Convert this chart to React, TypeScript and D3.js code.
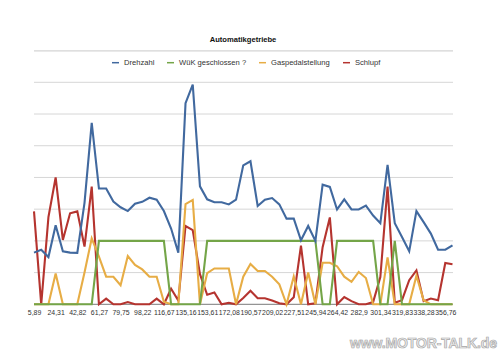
import React, { useRef, useEffect } from "react";
import * as d3 from "d3";

// x labels (every 3rd sample is labelled)
const xLabels = [
  "5,89", "24,31", "42,82", "61,27", "79,75", "98,22", "116,67", "135,16",
  "153,61", "172,08", "190,57", "209,02", "227,51", "245,94", "264,42",
  "282,9", "301,34", "319,83", "338,28", "356,76",
];

// values in grid units (7 gridlines, no y labels in the original)
const drehzahl = [
  1.63, 1.72, 1.49, 2.49, 1.67, 1.63, 1.62, 3.2, 5.72, 3.65, 3.65, 3.24, 3.06,
  2.94, 3.17, 3.23, 3.36, 3.3, 2.94, 2.39, 1.63, 6.34, 6.93, 3.72, 3.31, 3.22,
  3.22, 3.15, 3.3, 4.38, 4.51, 3.1, 3.3, 3.35, 3.15, 2.7, 2.7, 2.02, 2.47, 2.0,
  3.77, 3.7, 2.99, 3.31, 2.99, 2.99, 3.11, 2.8, 2.56, 4.4, 2.56, 2.12, 1.67,
  2.94, 2.59, 2.23, 1.72, 1.72, 1.86,
];
const wuek = [
  0, 0, 0, 0, 0, 0, 0, 0, 0, 2, 2, 2, 2, 2, 2, 2, 2, 2, 2, 0, 0, 0, 0, 0, 2, 2,
  2, 2, 2, 2, 2, 2, 2, 2, 2, 2, 2, 2, 2, 2, 0, 0, 2, 2, 2, 2, 2, 2, 0, 0, 2, 0,
  0, 0, 0, 0, 0, 0, 0,
];
const gaspedal = [
  0, 0, 0, 0.97, 0, 0, 0, 1.0, 2.08, 1.5, 0.87, 0.87, 0.6, 1.52, 1.24, 1.1,
  0.87, 0.87, 0.08, 0, 0, 3.16, 3.29, 0, 0.98, 1.13, 1.13, 1.13, 0, 0.87, 1.27,
  1.05, 1.05, 0.87, 0.63, 0, 0.88, 0, 1.0, 0, 1.31, 1.31, 1.2, 0.87, 0.71,
  1.02, 0.83, 0, 0, 1.48, 0, 0, 0, 0.9, 0.13, 0, 0, 0, 0,
];
const schlupf = [
  2.93, 0, 2.75, 4.0, 2.03, 2.87, 2.93, 1.82, 3.71, 0, 0.18, 0, 0, 0.07, 0, 0,
  0, 0.18, 0, 0.49, 0.12, 2.47, 2.34, 0.95, 0.3, 0.37, 0, 0.05, 0, 0.2, 0.43,
  0.19, 0.19, 0.12, 0.03, 0, 0.22, 1.85, 0, 0.03, 1.8, 2.74, 0, 0.23, 0.1, 0,
  0, 0.07, 0.86, 3.71, 0.05, 0.13, 0.76, 1.07, 0.1, 0.18, 0.13, 1.3, 1.26,
];

const seriesNames = ["Drehzahl", "WüK geschlossen ?", "Gaspedalstellung", "Schlupf"];
const seriesColors = ["#41699f", "#74a548", "#e7ad45", "#b5342f"];

export default function App() {
  const ref = useRef<SVGSVGElement>(null);

  useEffect(() => {
    const width = 500;
    const height = 353;
    const font = "'Liberation Sans', Arial, sans-serif";

    const svg = d3.select(ref.current);
    svg.selectAll("*").remove();
    svg.attr("width", width).attr("height", height);

    const all = [drehzahl, wuek, gaspedal, schlupf];
    const n = drehzahl.length;

    const x = d3
      .scalePoint<number>()
      .domain(d3.range(n))
      .range([34, 452.5]);
    const y = d3.scaleLinear().domain([0, 7]).range([304.3, 82.3]);

    // title
    svg
      .append("text")
      .attr("x", 243)
      .attr("y", 42)
      .attr("text-anchor", "middle")
      .attr("font-family", font)
      .attr("font-weight", "bold")
      .attr("font-size", 7.6)
      .attr("fill", "#111")
      .text("Automatikgetriebe");

    // rule under title
    svg
      .append("line")
      .attr("x1", 34)
      .attr("x2", 453)
      .attr("y1", 50.8)
      .attr("y2", 50.8)
      .attr("stroke", "#d4d4d4")
      .attr("stroke-width", 1.2);

    // legend
    const legendX = [112, 167, 259, 343];
    const lg = svg
      .selectAll("g.legend")
      .data(seriesNames)
      .enter()
      .append("g")
      .attr("transform", (d, i) => `translate(${legendX[i]},62.7)`);
    lg.append("line")
      .attr("x1", 0)
      .attr("x2", 7)
      .attr("stroke", (d, i) => seriesColors[i])
      .attr("stroke-width", 1.5);
    lg.append("text")
      .attr("x", 12)
      .attr("y", 2.7)
      .attr("font-family", font)
      .attr("font-size", 7.6)
      .attr("fill", "#333")
      .text((d) => d);

    // gridlines
    svg
      .append("g")
      .selectAll("line")
      .data(d3.range(1, 8))
      .enter()
      .append("line")
      .attr("x1", 34)
      .attr("x2", 453)
      .attr("y1", (d) => y(d))
      .attr("y2", (d) => y(d))
      .attr("stroke", "#d6d6d6")
      .attr("stroke-width", 1);

    // x axis
    const axis = d3
      .axisBottom(x)
      .tickValues(d3.range(0, n, 3))
      .tickSize(0)
      .tickPadding(6)
      .tickFormat((d) => xLabels[(d as number) / 3]);
    const ax = svg
      .append("g")
      .attr("transform", `translate(0,${y(0)})`)
      .call(axis);
    ax.select(".domain")
      .attr("d", `M34,0H453`)
      .attr("stroke", "#7a7a7a")
      .attr("stroke-width", 1);
    ax.selectAll("text")
      .attr("font-family", font)
      .attr("font-size", 6.9)
      .attr("fill", "#333");

    // lines (last series drawn first)
    const line = d3
      .line<number>()
      .x((d, i) => x(i) as number)
      .y((d) => y(d));
    [3, 2, 1, 0].forEach((s) => {
      svg
        .append("path")
        .datum(all[s])
        .attr("d", line)
        .attr("fill", "none")
        .attr("stroke", seriesColors[s])
        .attr("stroke-width", 2.1)
        .attr("stroke-linejoin", "miter");
    });

    // watermark
    svg
      .append("text")
      .attr("x", 497)
      .attr("y", 348)
      .attr("text-anchor", "end")
      .attr("font-family", font)
      .attr("font-weight", "bold")
      .attr("font-size", 14)
      .attr("fill", "#ececec")
      .attr("stroke", "#a8a8a8")
      .attr("stroke-width", 0.7)
      .attr("textLength", 147)
      .text("www.MOTOR-TALK.de");
  }, []);

  return (
    <svg
      ref={ref}
      style={{ position: "absolute", left: 0, top: 0, background: "#fff" }}
    ></svg>
  );
}
